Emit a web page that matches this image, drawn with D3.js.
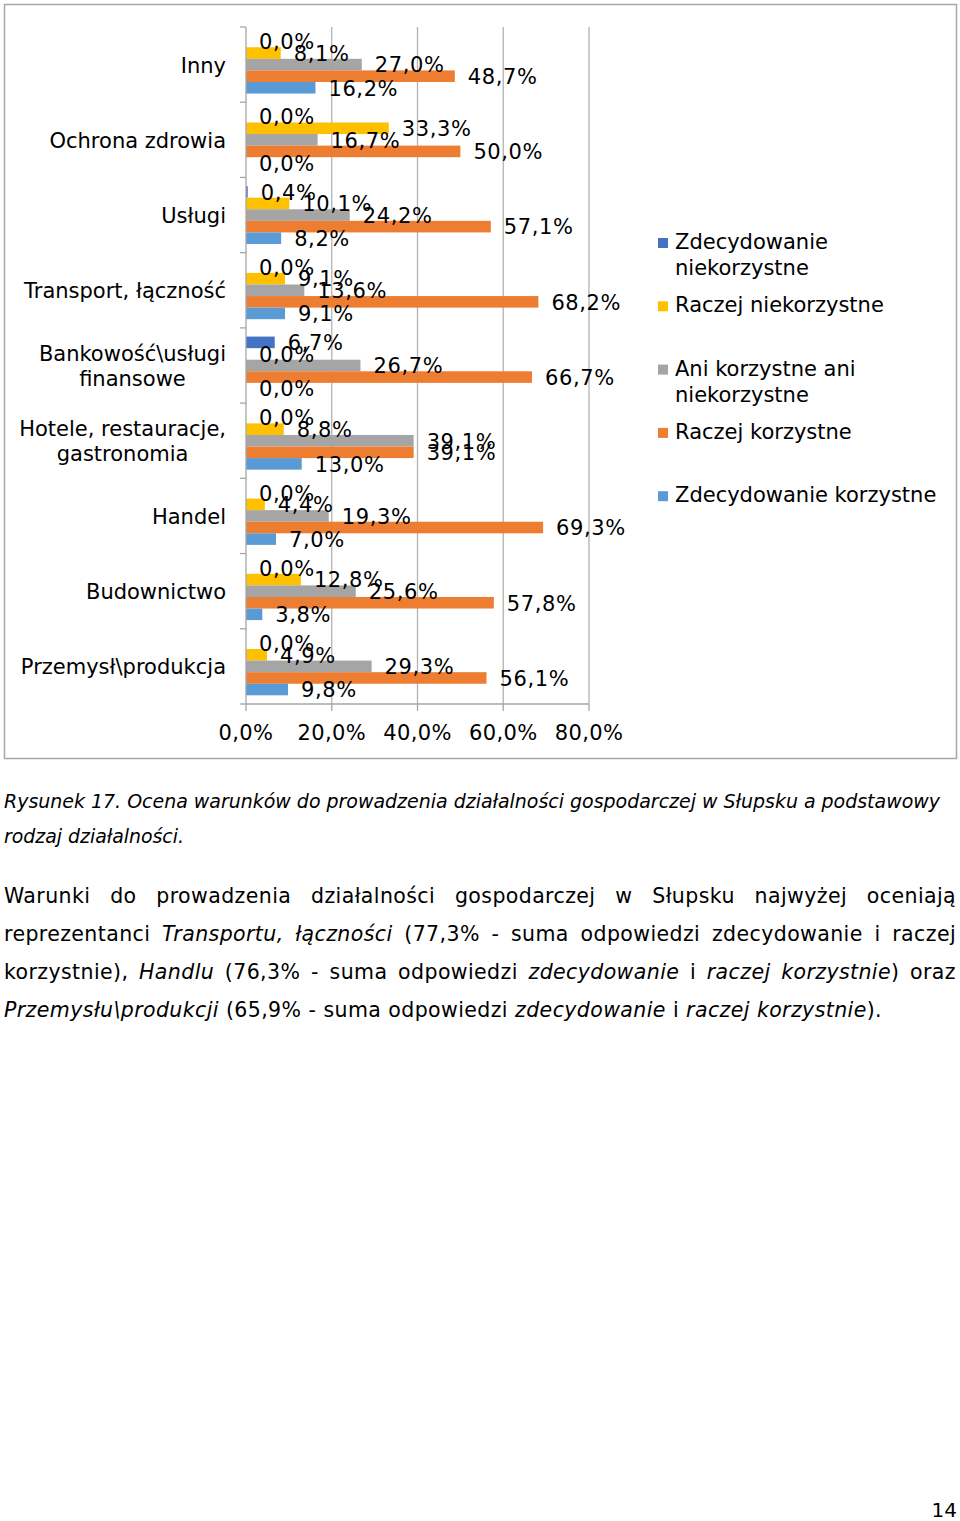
<!DOCTYPE html>
<html>
<head>
<meta charset="utf-8">
<script src="https://cdn.jsdelivr.net/npm/d3@7"></script>
<style>
  body { margin: 0; background: #fff; }
  svg text { font-family: "DejaVu Sans", Verdana, sans-serif; fill: #000; }
</style>
</head>
<body>
<div id="chart"></div>
<script>
// categories top to bottom as shown, "\n" = wrapped line
const categories = ["Inny", "Ochrona zdrowia", "Usługi", "Transport, łączność",
  "Bankowość\\usługi\nfinansowe", "Hotele, restauracje,\ngastronomia", "Handel",
  "Budownictwo", "Przemysł\\produkcja"];
const series = ["Zdecydowanie\nniekorzystne", "Raczej niekorzystne",
  "Ani korzystne ani\nniekorzystne", "Raczej korzystne", "Zdecydowanie korzystne"];
const colors = ["#4472C4", "#FFC000", "#A5A5A5", "#ED7D31", "#5B9BD5"];

// values per series, same order as categories
const zdecNiekorz  = [0.0, 0.0, 0.4, 0.0, 6.7, 0.0, 0.0, 0.0, 0.0];
const raczNiekorz  = [8.1, 33.3, 10.1, 9.1, 0.0, 8.8, 4.4, 12.8, 4.9];
const aniAni       = [27.0, 16.7, 24.2, 13.6, 26.7, 39.1, 19.3, 25.6, 29.3];
const raczKorz     = [48.7, 50.0, 57.1, 68.2, 66.7, 39.1, 69.3, 57.8, 56.1];
const zdecKorz     = [16.2, 0.0, 8.2, 9.1, 0.0, 13.0, 7.0, 3.8, 9.8];
const values = [zdecNiekorz, raczNiekorz, aniAni, raczKorz, zdecKorz];

const xTicks = [0, 20, 40, 60, 80];

const caption = ["Rysunek 17. Ocena warunków do prowadzenia działalności gospodarczej w Słupsku a podstawowy",
  "rodzaj działalności."];
// _ toggles italic
const para = [
  "Warunki do prowadzenia działalności gospodarczej w Słupsku najwyżej oceniają",
  "reprezentanci _Transportu, łączności_ (77,3% - suma odpowiedzi zdecydowanie i raczej",
  "korzystnie), _Handlu_ (76,3% - suma odpowiedzi _zdecydowanie_ i _raczej korzystnie_) oraz",
  "_Przemysłu\\produkcji_ (65,9% - suma odpowiedzi _zdecydowanie_ i _raczej korzystnie_)."
];

const W = 960, H = 1521;
const fs = 21;
const pl = d3.formatLocale({decimal: ",", thousands: " ", grouping: [3], currency: ["", ""]});
const pct = v => pl.format(".1f")(v) + "%";

const svg = d3.select("#chart").append("svg")
  .attr("width", W).attr("height", H);

// chart frame
svg.append("rect")
  .attr("x", 4.5).attr("y", 4.5).attr("width", 952).attr("height", 754)
  .attr("fill", "#fff").attr("stroke", "#a6a6a6").attr("stroke-width", 1.5);

const x = d3.scaleLinear().domain([0, 80]).range([246, 589]);
const y0 = d3.scaleBand().domain(categories).range([27, 704]);
const y1 = d3.scaleBand().domain(series).range([0, y0.bandwidth()]).paddingOuter(0.75);

// gridlines
svg.append("g").selectAll("line").data(xTicks.slice(1)).join("line")
  .attr("x1", d => x(d)).attr("x2", d => x(d))
  .attr("y1", 27).attr("y2", 704)
  .attr("stroke", "#b3b3b3").attr("stroke-width", 1.3);

// bars
const groups = svg.append("g").selectAll("g").data(categories).join("g")
  .attr("transform", d => `translate(0,${y0(d)})`);

groups.selectAll("rect")
  .data((c, ci) => series.map((s, si) => ({s, si, v: values[si][ci]})))
  .join("rect")
  .attr("x", x(0))
  .attr("y", d => y1(d.s))
  .attr("width", d => x(d.v) - x(0))
  .attr("height", y1.bandwidth())
  .attr("fill", d => colors[d.si]);

// axes
svg.append("line").attr("x1", x(0)).attr("x2", x(0)).attr("y1", 27).attr("y2", 704)
  .attr("stroke", "#a6a6a6").attr("stroke-width", 1.3);
svg.append("line").attr("x1", x(0)).attr("x2", x(80)).attr("y1", 704).attr("y2", 704)
  .attr("stroke", "#a6a6a6").attr("stroke-width", 1.3);

const bounds = categories.map(c => y0(c)).concat([704]);
svg.append("g").selectAll("line").data(bounds).join("line")
  .attr("x1", 240).attr("x2", x(0)).attr("y1", d => d).attr("y2", d => d)
  .attr("stroke", "#a6a6a6").attr("stroke-width", 1.3);
svg.append("g").selectAll("line").data(xTicks).join("line")
  .attr("x1", d => x(d)).attr("x2", d => x(d)).attr("y1", 704).attr("y2", 711)
  .attr("stroke", "#a6a6a6").attr("stroke-width", 1.3);

svg.append("g").selectAll("text").data(xTicks).join("text")
  .attr("x", d => x(d)).attr("y", 740)
  .attr("text-anchor", "middle").attr("font-size", fs)
  .attr("letter-spacing", 0.4)
  .text(d => pct(d));

// data labels
groups.selectAll("text.lbl")
  .data((c, ci) => series.map((s, si) => ({s, si, v: values[si][ci]})))
  .join("text").attr("class", "lbl")
  .attr("x", d => x(d.v) + 13)
  .attr("y", d => y1(d.s) + y1.bandwidth() / 2 + 7.8)
  .attr("font-size", fs)
  .attr("letter-spacing", 0.6)
  .text(d => pct(d.v));

// category labels
svg.append("g").selectAll("text").data(categories).join("text")
  .attr("font-size", fs)
  .each(function(c) {
    const lines = c.split("\n");
    const t = d3.select(this).attr("text-anchor", "middle");
    const cy = y0(c) + y0.bandwidth() / 2 + 8 - (lines.length - 1) * 12.5;
    lines.forEach((l, i) => t.append("tspan").attr("y", cy + i * 25).text(l));
    let mw = 0;
    t.selectAll("tspan").each(function() { mw = Math.max(mw, this.getComputedTextLength()); });
    t.selectAll("tspan").attr("x", 226 - mw / 2);
  });

// legend
const leg = svg.append("g").selectAll("g").data(series).join("g")
  .attr("transform", (d, i) => `translate(658,${249 + i * 63.3})`);
leg.append("rect").attr("x", 0).attr("y", -11).attr("width", 10).attr("height", 10)
  .attr("fill", (d, i) => colors[i]);
leg.append("text").attr("font-size", fs)
  .each(function(d) {
    d.split("\n").forEach((l, i) =>
      d3.select(this).append("tspan").attr("x", 17).attr("y", i * 26).text(l));
  });

// caption
caption.forEach((c, i) => {
  const t = svg.append("text").attr("x", 4).attr("y", 808 + i * 35)
    .attr("font-size", 19).attr("font-style", "italic").text(c);
  t.attr("textLength", i === 0 ? 936 : 180).attr("lengthAdjust", "spacingAndGlyphs");
});

// paragraph, justified by word gaps
const pfs = 20.5;
para.forEach((line, li) => {
  const by = 902.5 + li * 38;
  let italic = false;
  const words = line.split(" ").map(w => {
    const pieces = [];
    let cur = "";
    for (const ch of w) {
      if (ch === "_") { if (cur) pieces.push([cur, italic]); cur = ""; italic = !italic; }
      else cur += ch;
    }
    if (cur) pieces.push([cur, italic]);
    return pieces;
  });
  const nodes = words.map(pieces => {
    const t = svg.append("text").attr("y", by).attr("font-size", pfs).attr("letter-spacing", 0.4);
    pieces.forEach(p => t.append("tspan").attr("font-style", p[1] ? "italic" : "normal").text(p[0]));
    return t;
  });
  const widths = nodes.map(n => n.node().getComputedTextLength());
  const total = d3.sum(widths);
  const last = li === para.length - 1;
  const lineW = last ? 878 : 952;
  const gap = (lineW - total) / (nodes.length - 1);
  let cx = 4;
  nodes.forEach((n, i) => { n.attr("x", cx); cx += widths[i] + gap; });
});

// page number
svg.append("text").attr("x", 957).attr("y", 1517).attr("text-anchor", "end")
  .attr("font-size", 20).text("14");
</script>
</body>
</html>
